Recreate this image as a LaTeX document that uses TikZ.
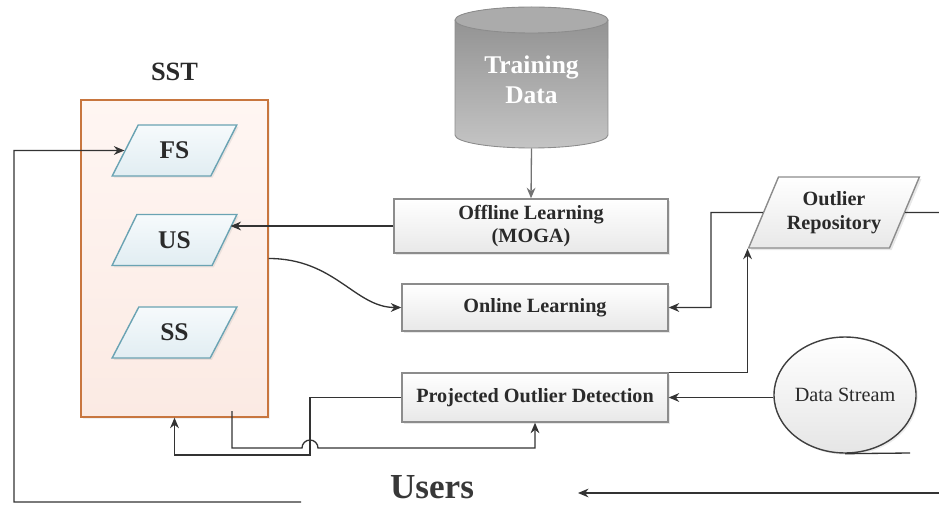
\documentclass[tikz,border=0pt]{standalone}
\usepackage{fontspec}
\setmainfont{Liberation Serif}
\usetikzlibrary{arrows.meta,shapes.geometric,shadows}

\definecolor{ink}{HTML}{2A2A2A}
\definecolor{wire}{HTML}{333333}
\definecolor{boxline}{HTML}{8C8C8C}
\definecolor{sstline}{HTML}{C8763F}
\definecolor{sstfillA}{HTML}{FFF6F3}
\definecolor{sstfillB}{HTML}{FBEAE3}
\definecolor{paraline}{HTML}{6AA3B3}
\definecolor{parafillA}{HTML}{F6FAFC}
\definecolor{parafillB}{HTML}{E1EDF2}
\definecolor{cylA}{HTML}{8E8E8E}
\definecolor{cylB}{HTML}{C4C4C4}
\definecolor{cyltop}{HTML}{ABABAB}

\begin{document}
\begin{tikzpicture}[x=0.02cm,y=-0.02cm,
  lbl/.style={font=\fontsize{11.5}{13.5}\selectfont\bfseries, text=ink, align=center},
  procbox/.style={lbl, draw=boxline, line width=0.8pt, top color=white, bottom color=black!9,
    inner sep=2pt, drop shadow={shadow xshift=1.2pt, shadow yshift=-1.2pt, opacity=0.18}},
  slant/.style={trapezium, trapezium left angle=60, trapezium right angle=120,
    trapezium stretches=true, line width=0.8pt, inner sep=1pt},
  storebox/.style={slant, draw=paraline, top color=parafillA, bottom color=parafillB,
    minimum width=2.5cm, minimum height=1.02cm,
    font=\fontsize{14.5}{16}\selectfont\bfseries, text=ink,
    drop shadow={shadow xshift=1pt, shadow yshift=-1pt, opacity=0.15}},
  conn/.style={draw=wire, line width=0.75pt},
  arr/.style={conn, -{Stealth[length=6pt,width=5pt]}},
  grayarr/.style={draw=black!55, line width=0.75pt, -{Stealth[length=6pt,width=5pt]}}
]
\useasboundingbox (0,0) rectangle (939,506);

% ---- SST block with its three stores ----
\node[font=\fontsize{15}{17}\selectfont\bfseries, text=ink] (ssttitle) at (174.5,72) {SST};
\node[draw=sstline, line width=0.8pt, top color=sstfillA, bottom color=sstfillB,
      minimum width=3.74cm, minimum height=6.34cm,
      drop shadow={shadow xshift=1pt, shadow yshift=-1pt, opacity=0.12}] (sst) at (174.5,258.5) {};
\node[storebox] (fs) at (174.5,150.5) {FS};
\node[storebox] (us) at (174.5,240) {US};
\node[storebox] (ss) at (174.5,332.5) {SS};

% ---- training data cylinder ----
\shade[top color=cylA, bottom color=cylB]
  (455,20) -- (455,135) arc[start angle=180, end angle=360, x radius=1.53cm, y radius=0.26cm]
  -- (608,20) arc[start angle=0, end angle=180, x radius=1.53cm, y radius=0.26cm] -- cycle;
\draw[black!45, line width=0.5pt]
  (455,20) -- (455,135) arc[start angle=180, end angle=360, x radius=1.53cm, y radius=0.26cm]
  -- (608,20);
\filldraw[fill=cyltop, draw=black!45, line width=0.5pt] (531.5,20) ellipse[x radius=1.53cm, y radius=0.26cm];
\node[minimum width=3.06cm, minimum height=2.82cm, inner sep=0pt] (td) at (531.5,77.5) {};
\node[font=\fontsize{14.5}{17}\selectfont\bfseries, text=white, align=center] (tdtext) at (531.5,80) {Training\\Data};

% ---- processing boxes ----
\node[procbox, minimum width=5.48cm, minimum height=1.08cm] (off) at (531,226) {Offline Learning\\(MOGA)};
\node[procbox, minimum width=5.32cm, minimum height=0.94cm] (onl) at (535,307.5) {Online Learning};
\node[procbox, minimum width=5.32cm, minimum height=0.98cm] (pod) at (535,397.5) {Projected Outlier Detection};

% ---- outlier repository and data stream ----
\node[slant, draw=boxline, top color=white, bottom color=black!9,
      minimum width=3.44cm, minimum height=1.42cm, lbl,
      drop shadow={shadow xshift=1.2pt, shadow yshift=-1.2pt, opacity=0.18}] (or) at (834,212.5) {Outlier\\Repository};
\node[ellipse, draw=black!75, line width=0.8pt, top color=white, bottom color=black!10,
      minimum width=2.64cm, minimum height=2.32cm, inner sep=0pt,
      font=\fontsize{11.5}{13}\selectfont, text=ink,
      drop shadow={shadow xshift=1pt, shadow yshift=-1pt, opacity=0.15}] (ds) at (845,395) {Data Stream};

% ---- users ----
\node[font=\fontsize{20}{22}\selectfont\bfseries, text=black!78, inner sep=0pt] (users) at (432,487) {Users};

% ---- free ends ----
\coordinate (sstout) at (232,411);
\coordinate (usrleft) at (301,502);
\coordinate (usrin) at (939,493);
\coordinate (usrtip) at (578,493);
\coordinate (orout) at (939,212.5);
\coordinate (dsbase) at (910,453);

% ---- connectors ----
\draw[grayarr] (td.south) -- (off.north);
\draw[arr] (off.west) -- ([xshift=-0.15cm]off.west -| us.top right corner);
\draw[arr] (sst.east) .. controls (335,258.5) and (355,307.5) .. (onl.west);
\draw[arr] (or.west) -- (711,212.5) -- (711,307.5) -- (onl.east);
\draw[conn] (or.east) -- (orout);
\draw[arr] (pod.north east) -| (or.bottom left corner);
\draw[arr] (ds.west |- pod.east) -- (pod.east);
\draw[conn] (ds.south) -- (dsbase);
\draw[arr] (pod.west) -- (310,397.5) -- (310,455) -- (174.5,455) -- (sst.south);
\draw[arr] (sstout) -- (232,448) -- (302,448)
  arc[start angle=180, end angle=0, radius=0.16cm] -- (535,448) -- (pod.south);
\draw[arr] (usrleft) -- (14,502) -- (14,150.5) -- (fs.west);
\draw[arr] (usrin) -- (usrtip);
\end{tikzpicture}
\end{document}
